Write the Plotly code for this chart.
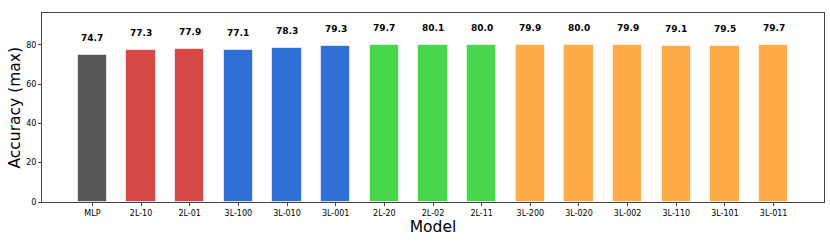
import plotly.graph_objects as go

models = ["MLP", "2L-10", "2L-01", "3L-100", "3L-010", "3L-001", "2L-20", "2L-02",
          "2L-11", "3L-200", "3L-020", "3L-002", "3L-110", "3L-101", "3L-011"]
accuracy = [74.7, 77.3, 77.9, 77.1, 78.3, 79.3, 79.7, 80.1, 80.0, 79.9, 80.0, 79.9, 79.1, 79.5, 79.7]
groups = ["MLP", "2L", "2L", "3L", "3L", "3L", "2L2", "2L2", "2L2", "3L2", "3L2", "3L2", "3L2", "3L2", "3L2"]
group_colors = {"MLP": "#585858", "2L": "#d64848", "3L": "#3070d6", "2L2": "#48d64a", "3L2": "#ffab48"}

x = list(range(len(models)))
colors = [group_colors[g] for g in groups]

fig = go.Figure()
fig.add_trace(go.Bar(
    x=x, y=accuracy, width=0.6,
    marker=dict(color=colors, line=dict(color="rgba(255,255,255,0.6)", width=1)),
    showlegend=False, hoverinfo="skip",
))
for xi, v in zip(x, accuracy):
    fig.add_annotation(x=xi, y=v, text=f"<b>{v:.1f}</b>", showarrow=False,
                       yshift=17, font=dict(family="DejaVu Sans", size=9, color="black"))

# y-axis title as annotation for precise placement
fig.add_annotation(xref="paper", yref="paper", x=0, y=0.5, xshift=-28,
                   text="Accuracy (max)", textangle=-90, showarrow=False,
                   xanchor="center", yanchor="middle",
                   font=dict(family="DejaVu Sans", size=15.5, color="black"))

ymax = max(accuracy) * 1.2
fig.update_layout(
    width=830, height=249,
    margin=dict(l=42, r=6, t=13, b=47, autoexpand=False),
    paper_bgcolor="white", plot_bgcolor="white",
    font=dict(family="DejaVu Sans", color="black"),
    bargap=0,
)
fig.update_xaxes(
    automargin=False,
    range=[-1.035, len(models) - 1 + 1.035],
    tickmode="array", tickvals=x, ticktext=models,
    tickfont=dict(size=8), ticks="outside", ticklen=3, tickcolor="#444",
    showline=True, linecolor="#444", linewidth=1, mirror=True,
    showgrid=False, zeroline=False,
    title=dict(text="Model", font=dict(size=15.5), standoff=4),
)
fig.update_yaxes(
    automargin=False,
    range=[0, ymax],
    tickvals=[0, 20, 40, 60, 80],
    tickfont=dict(size=8), ticks="outside", ticklen=3, tickcolor="#444",
    showline=True, linecolor="#444", linewidth=1, mirror=True,
    showgrid=False, zeroline=False,
)
# remove the page's default 8px body margin so the figure fills the window exactly
fig.write_html("out.html", config={"displayModeBar": False},
               post_script="document.body.style.margin='0px';")
